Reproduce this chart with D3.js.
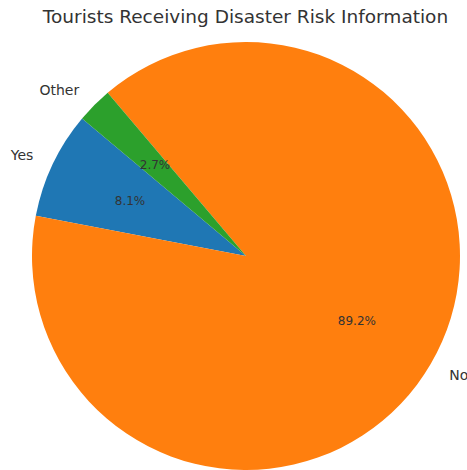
<!DOCTYPE html>
<html>
<head>
<meta charset="utf-8">
<script src="https://cdn.jsdelivr.net/npm/d3@7"></script>
<style>
  html, body { margin: 0; padding: 0; background: #fff; }
  svg { display: block; font-family: "DejaVu Sans", sans-serif; }
</style>
</head>
<body>
<svg id="chart" width="467" height="470"></svg>
<script>
// Survey answers: did the tourist receive disaster risk information?
const categories = ["Yes", "No", "Other"];
const counts = [3, 33, 1];
const colors = ["#1f77b4", "#ff7f0e", "#2ca02c"];
const title = "Tourists Receiving Disaster Risk Information";

const width = 467, height = 470;
const cx = 246, cy = 256, r = 214;
const startDeg = 140; // first wedge starts here, counter-clockwise from 3 o'clock

const svg = d3.select("#chart");

svg.append("text")
  .attr("x", width / 2 + 12)
  .attr("y", 23)
  .attr("text-anchor", "middle")
  .attr("font-size", 18.5)
  .attr("fill", "#333")
  .text(title);

const total = d3.sum(counts);
const data = categories.map((c, i) => ({ label: c, value: counts[i], color: colors[i] }));

// d3.pie angles run clockwise from 12 o'clock; run it in reverse so the
// wedges go counter-clockwise from the start angle.
const start = (90 - startDeg) * Math.PI / 180;
const pie = d3.pie().value(d => d.value).sort(null)
  .startAngle(start).endAngle(start - 2 * Math.PI);
const arcs = pie(data);

const arc = d3.arc().innerRadius(0).outerRadius(r);
const g = svg.append("g").attr("transform", `translate(${cx},${cy})`);

g.selectAll("path").data(arcs).join("path")
  .attr("d", arc)
  .attr("fill", d => d.data.color);

function pos(d, k) {
  const a = (d.startAngle + d.endAngle) / 2; // clockwise from 12 o'clock
  return [Math.sin(a) * r * k, -Math.cos(a) * r * k];
}

g.selectAll("text.pct").data(arcs).join("text")
  .attr("class", "pct")
  .attr("x", d => pos(d, 0.6)[0])
  .attr("y", d => pos(d, 0.6)[1])
  .attr("text-anchor", "middle")
  .attr("dominant-baseline", "central")
  .attr("font-size", 12)
  .attr("fill", "#333")
  .text(d => (d.value / total * 100).toFixed(1) + "%");

g.selectAll("text.lbl").data(arcs).join("text")
  .attr("class", "lbl")
  .attr("x", d => pos(d, 1.1)[0])
  .attr("y", d => pos(d, 1.1)[1])
  .attr("text-anchor", d => pos(d, 1.1)[0] < 0 ? "end" : "start")
  .attr("dominant-baseline", "central")
  .attr("font-size", 14)
  .attr("fill", "#333")
  .text(d => d.data.label);
</script>
</body>
</html>
